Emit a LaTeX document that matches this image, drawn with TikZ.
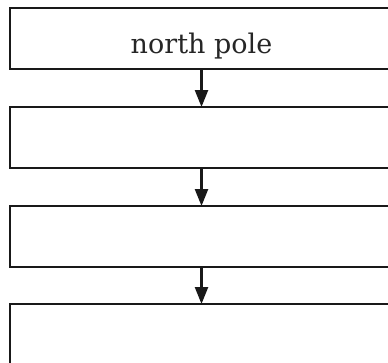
\documentclass[tikz,border=0pt]{standalone}
\usepackage{fontspec}
\setmainfont{DejaVu Serif}
\usetikzlibrary{arrows.meta}
\begin{document}
\begin{tikzpicture}[x=1pt,y=-1pt,
  box/.style={draw=black!90, line width=2.2pt, outer sep=0pt, inner sep=0pt,
    minimum width=392pt, minimum height=61pt, anchor=north west},
  lbl/.style={font=\fontsize{27}{32}\selectfont, text=black!85, inner sep=0pt, anchor=base},
  conn/.style={draw=black!90, line width=2.4pt, -{Triangle[width=13pt,length=17pt]}, shorten <=-1pt}]
\useasboundingbox (0,0) rectangle (388,362);
\clip (0,0) rectangle (388,362);
\node[box] (b1) at (10,8) {};
\node[lbl] (t1) at (201.5,53) {north pole};
\node[box] (b2) at (10,107) {};
\node[box] (b3) at (10,206) {};
\node[box] (b4) at (10,304) {};
\draw[conn] (b1.south -| t1) -- (b2.north -| t1);
\draw[conn] (b2.south -| t1) -- (b3.north -| t1);
\draw[conn] (b3.south -| t1) -- (b4.north -| t1);
\end{tikzpicture}
\end{document}
